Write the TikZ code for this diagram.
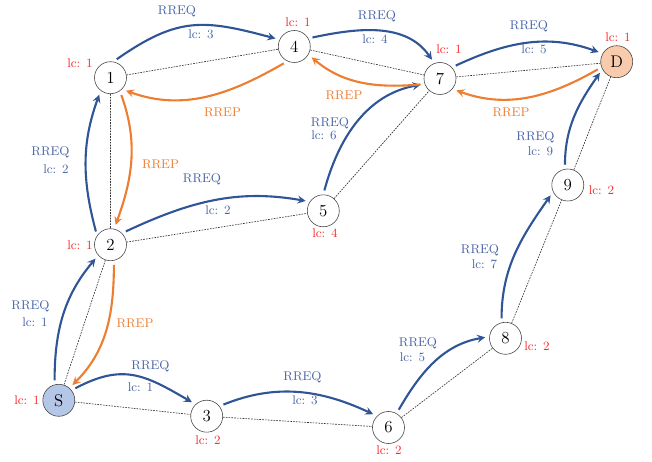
\documentclass[tikz,border=0pt]{standalone}
\usepackage{xcolor}
\definecolor{reqblue}{RGB}{47,85,151}
\definecolor{reqtext}{RGB}{72,100,165}
\definecolor{repor}{RGB}{237,125,49}
\definecolor{srcfill}{RGB}{180,199,231}
\definecolor{dstfill}{RGB}{248,203,173}
\definecolor{lcred}{RGB}{250,40,40}

\begin{document}
\begin{tikzpicture}[scale=0.25,
  nd/.style={circle,draw=black!75,minimum size=0.8cm,inner sep=0pt,font=\large},
  lnk/.style={dash pattern=on 1.2pt off 0.8pt,black!80,line width=0.45pt},
  req/.style={-stealth,reqblue,line width=1.5pt,shorten <=3pt,shorten >=3pt},
  rep/.style={-stealth,repor,line width=1.5pt,shorten <=3pt,shorten >=3pt},
  lc/.style={lcred,font=\small},
  tq/.style={reqtext,font=\small},
  tp/.style={repor,font=\small}]
\useasboundingbox (0,0) rectangle (65.2,46.2);

% nodes
\node[nd,fill=srcfill] (S) at (5.88,6.17) {S};
\node[nd] (n1) at (11.05,38.43) {1};
\node[nd] (n2) at (11.05,21.73) {2};
\node[nd] (n3) at (20.67,4.58) {3};
\node[nd] (n4) at (29.43,41.55) {4};
\node[nd] (n5) at (32.33,25.12) {5};
\node[nd] (n6) at (38.85,3.45) {6};
\node[nd] (n7) at (44.0,38.35) {7};
\node[nd] (n8) at (50.55,12.37) {8};
\node[nd] (n9) at (56.78,27.7) {9};
\node[nd,fill=dstfill] (D) at (61.67,40.03) {D};

% links
\draw[lnk] (n1)--(n4) (n1)--(n2) (n2)--(n5) (n2)--(S) (S)--(n3) (n3)--(n6)
  (n6)--(n8) (n8)--(n9) (n9)--(D) (n4)--(n7) (n5)--(n7) (n7)--(D);

% lc counters
\node[lc] (lS) at (2.7,6.2) {lc: 1};
\node[lc] (l1) at (8.0,39.9) {lc: 1};
\node[lc] (l2) at (8.0,21.7) {lc: 1};
\node[lc] (l3) at (20.8,2.2) {lc: 2};
\node[lc] (l4) at (29.8,44.0) {lc: 1};
\node[lc] (l5) at (32.5,22.9) {lc: 4};
\node[lc] (l6) at (38.9,1.2) {lc: 2};
\node[lc] (l7) at (44.9,41.3) {lc: 1};
\node[lc] (l8) at (53.7,11.6) {lc: 2};
\node[lc] (l9) at (60.15,27.2) {lc: 2};
\node[lc] (lD) at (61.8,42.5) {lc: 1};

% RREQ
\draw[req] (S.105) to[out=90,in=230] (n2.221);
\node[tq] (qS2a) at (3.05,15.6) {RREQ};
\node[tq] (qS2b) at (3.5,14.0) {lc: 1};
\draw[req] (S.38) to[out=28,in=150,looseness=1.2] (n3.133);
\node[tq] (qS3a) at (15.05,9.6) {RREQ};
\node[tq] (qS3b) at (14.05,7.5) {lc: 1};
\draw[req] (n2.146) to[out=105,in=250] (n1.233);
\node[tq] (q21a) at (5.05,31.0) {RREQ};
\node[tq] (q21b) at (5.6,29.3) {lc: 2};
\draw[req] (n2.45) to[out=25,in=170] (n5.146);
\node[tq] (q25a) at (20.2,28.3) {RREQ};
\node[tq] (q25b) at (21.8,25.2) {lc: 2};
\draw[req] (n3.38) to[out=22,in=155] (n6.135);
\node[tq] (q36a) at (30.25,8.5) {RREQ};
\node[tq] (q36b) at (30.5,6.2) {lc: 3};
\draw[req] (n1.80) to[out=35,in=165,looseness=1.2] (n4.155);
\node[tq] (q14a) at (17.7,45.1) {RREQ};
\node[tq] (q14b) at (20.1,42.8) {lc: 3};
\draw[req] (n4.30) to[out=12,in=125] (n7.110);
\node[tq] (q47a) at (37.7,44.6) {RREQ};
\node[tq] (q47b) at (37.5,42.3) {lc: 4};
\draw[req] (n5.90) to[out=75,in=190] (n7.200);
\node[tq] (q57a) at (33.0,33.9) {RREQ};
\node[tq] (q57b) at (32.4,32.7) {lc: 6};
\draw[req] (n6.60) to[out=60,in=190] (n8.174);
\node[tq] (q68a) at (41.8,11.9) {RREQ};
\node[tq] (q68b) at (41.25,10.5) {lc: 5};
\draw[req] (n8.104) to[out=90,in=235] (n9.205);
\node[tq] (q89a) at (48.0,21.2) {RREQ};
\node[tq] (q89b) at (48.45,19.8) {lc: 7};
\draw[req] (n9.100) to[out=90,in=235] (D.208);
\node[tq] (q9Da) at (53.55,32.5) {RREQ};
\node[tq] (q9Db) at (54.05,31.1) {lc: 9};
\draw[req] (n7.43) to[out=25,in=160] (D.150);
\node[tq] (q7Da) at (52.9,43.6) {RREQ};
\node[tq] (q7Db) at (53.4,41.3) {lc: 5};

% RREP
\draw[rep] (D.200) to[out=210,in=-20] (n7.320);
\node[tp] (pD7) at (51.1,35.0) {RREP};
\draw[rep] (n7.200) to[out=185,in=-40] (n4.330);
\node[tp] (p74) at (34.4,36.7) {RREP};
\draw[rep] (n4.245) to[out=210,in=-20] (n1.315);
\node[tp] (p41) at (22.25,35.0) {RREP};
\draw[rep] (n1.305) to[out=-70,in=70] (n2.77);
\node[tp] (p12) at (16.05,29.8) {RREP};
\draw[rep] (n2.282) to[out=-90,in=45] (S.49);
\node[tp] (p2S) at (13.5,13.9) {RREP};

\end{tikzpicture}
\end{document}
